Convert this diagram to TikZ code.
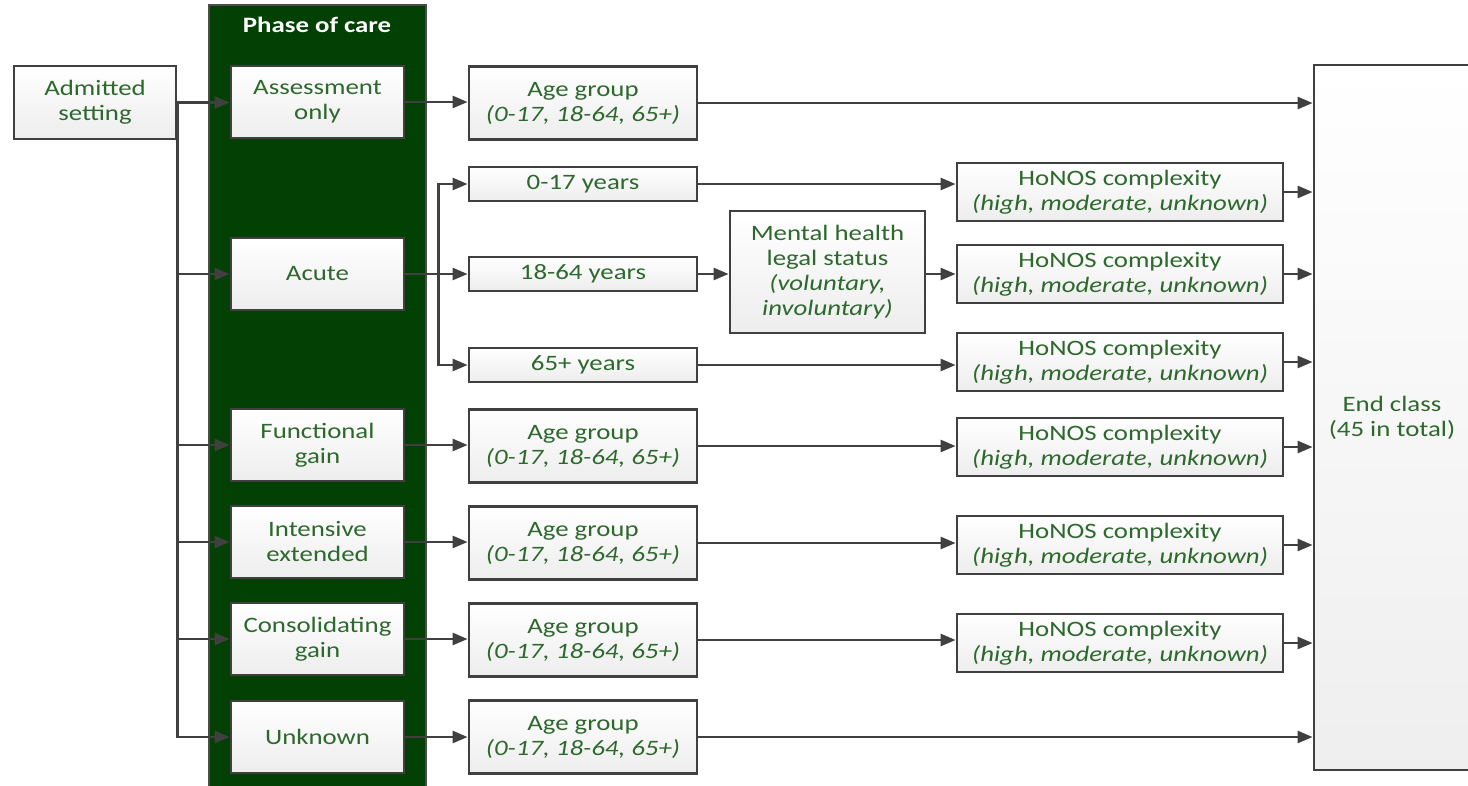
\documentclass[tikz,border=0pt]{standalone}
\usepackage{fontspec}
\setmainfont{Carlito}[FakeStretch=1.22]
\usetikzlibrary{arrows.meta,calc}
\definecolor{txtgreen}{RGB}{45,105,45}
\definecolor{panelgreen}{RGB}{3,64,3}
\definecolor{linegray}{RGB}{64,64,64}
\begin{document}
\begin{tikzpicture}[x=1pt,y=-1pt,
  box/.style={draw=linegray, line width=2.8pt, top color=white, bottom color=gray!14,
    text=txtgreen, align=center, font=\fontsize{22}{25}\selectfont, inner sep=0pt},
  phasebox/.style={box, minimum width=173pt, minimum height=72pt},
  agebox/.style={box, minimum width=228pt, minimum height=73pt},
  yearbox/.style={box, minimum width=228pt, minimum height=34pt},
  honbox/.style={box, minimum width=326pt, minimum height=58pt},
  conn/.style={draw=linegray, line width=2.5pt},
  arr/.style={conn, -{Triangle[length=15pt,width=12pt]}}
]
\useasboundingbox (0,0) rectangle (1468,785);
\fill[white] (0,0) rectangle (1468,785);

% panel
\node (panel) [fill=panelgreen, draw=gray!60!black, line width=2pt, minimum width=217pt, minimum height=800pt, anchor=north, inner sep=0pt] at (317,4) {};
\node (ptitle) [text=white, font=\fontsize{22}{25}\selectfont\bfseries] at (317,25) {Phase of care};

% left
\node (adm) [box, minimum width=162pt, minimum height=73pt] at (95,102.5) {Admitted\\setting};

% phases
\node (ph1) [phasebox] at (317.5,102) {Assessment\\only};
\node (ph2) [phasebox] at (317.5,274) {Acute};
\node (ph3) [phasebox] at (317.5,445) {Functional\\gain};
\node (ph4) [phasebox] at (317.5,542) {Intensive\\extended};
\node (ph5) [phasebox] at (317.5,639) {Consolidating\\gain};
\node (ph6) [phasebox] at (317.5,737) {Unknown};

% age groups
\node (ag1) [agebox] at (583,103) {Age group\\\textit{(0-17, 18-64, 65+)}};
\node (ag3) [agebox] at (583,446) {Age group\\\textit{(0-17, 18-64, 65+)}};
\node (ag4) [agebox] at (583,543) {Age group\\\textit{(0-17, 18-64, 65+)}};
\node (ag5) [agebox] at (583,640) {Age group\\\textit{(0-17, 18-64, 65+)}};
\node (ag6) [agebox] at (583,737) {Age group\\\textit{(0-17, 18-64, 65+)}};

% years
\node (y1) [yearbox] at (583,184) {0-17 years};
\node (y2) [yearbox] at (583,274) {18-64 years};
\node (y3) [yearbox] at (583,365) {65+ years};

% mental health
\node (mh) [box, minimum width=195pt, minimum height=122pt] at (827.5,272) {Mental health\\legal status\\\textit{(voluntary,}\\\textit{involuntary)}};

% HoNOS
\node (hn1) [honbox] at (1120,192) {HoNOS complexity\\\textit{(high, moderate, unknown)}};
\node (hn2) [honbox] at (1120,274) {HoNOS complexity\\\textit{(high, moderate, unknown)}};
\node (hn3) [honbox] at (1120,362) {HoNOS complexity\\\textit{(high, moderate, unknown)}};
\node (hn4) [honbox] at (1120,447) {HoNOS complexity\\\textit{(high, moderate, unknown)}};
\node (hn5) [honbox] at (1120,545) {HoNOS complexity\\\textit{(high, moderate, unknown)}};
\node (hn6) [honbox] at (1120,643) {HoNOS complexity\\\textit{(high, moderate, unknown)}};

% end class
\node (endc) [box, top color=white, bottom color=gray!13, minimum width=156pt, minimum height=705pt] at (1392,417.5) {End class\\(45 in total)};

% connectors: admitted -> phases
\draw[arr] (adm.east) -- (adm.east -| ph1.west);
\draw[arr] (adm.east) -- (adm.east |- ph6.west) -- (ph6.west);
\foreach \p in {ph2,ph3,ph4,ph5}
  \draw[arr] (adm.east |- \p.west) -- (\p.west);

% phases -> age groups
\draw[arr] (ph1.east) -- (ph1.east -| ag1.west);
\draw[arr] (ph3.east) -- (ph3.east -| ag3.west);
\draw[arr] (ph4.east) -- (ph4.east -| ag4.west);
\draw[arr] (ph5.east) -- (ph5.east -| ag5.west);
\draw[arr] (ph6.east) -- (ph6.east -| ag6.west);

% acute branching
\coordinate (br) at ($(ph2.east)+(33,0)$);
\draw[arr] (ph2.east) -- (ph2.east -| y2.west);
\draw[arr] (br) |- (y1.west);
\draw[arr] (br) |- (y3.west);

% years onwards
\draw[arr] (y1.east) -- (y1.east -| hn1.west);
\draw[arr] (y2.east) -- (y2.east -| mh.west);
\draw[arr] (mh.east |- y2.east) -- (y2.east -| hn2.west);
\draw[arr] (y3.east) -- (y3.east -| hn3.west);

% age groups -> HoNOS / end
\draw[arr] (ag1.east) -- (ag1.east -| endc.west);
\draw[arr] (ag3.east) -- (ag3.east -| hn4.west);
\draw[arr] (ag4.east) -- (ag4.east -| hn5.west);
\draw[arr] (ag5.east) -- (ag5.east -| hn6.west);
\draw[arr] (ag6.east) -- (ag6.east -| endc.west);

% HoNOS -> end
\foreach \h in {hn1,hn2,hn3,hn4,hn5,hn6}
  \draw[arr] (\h.east) -- (\h.east -| endc.west);
\end{tikzpicture}
\end{document}
